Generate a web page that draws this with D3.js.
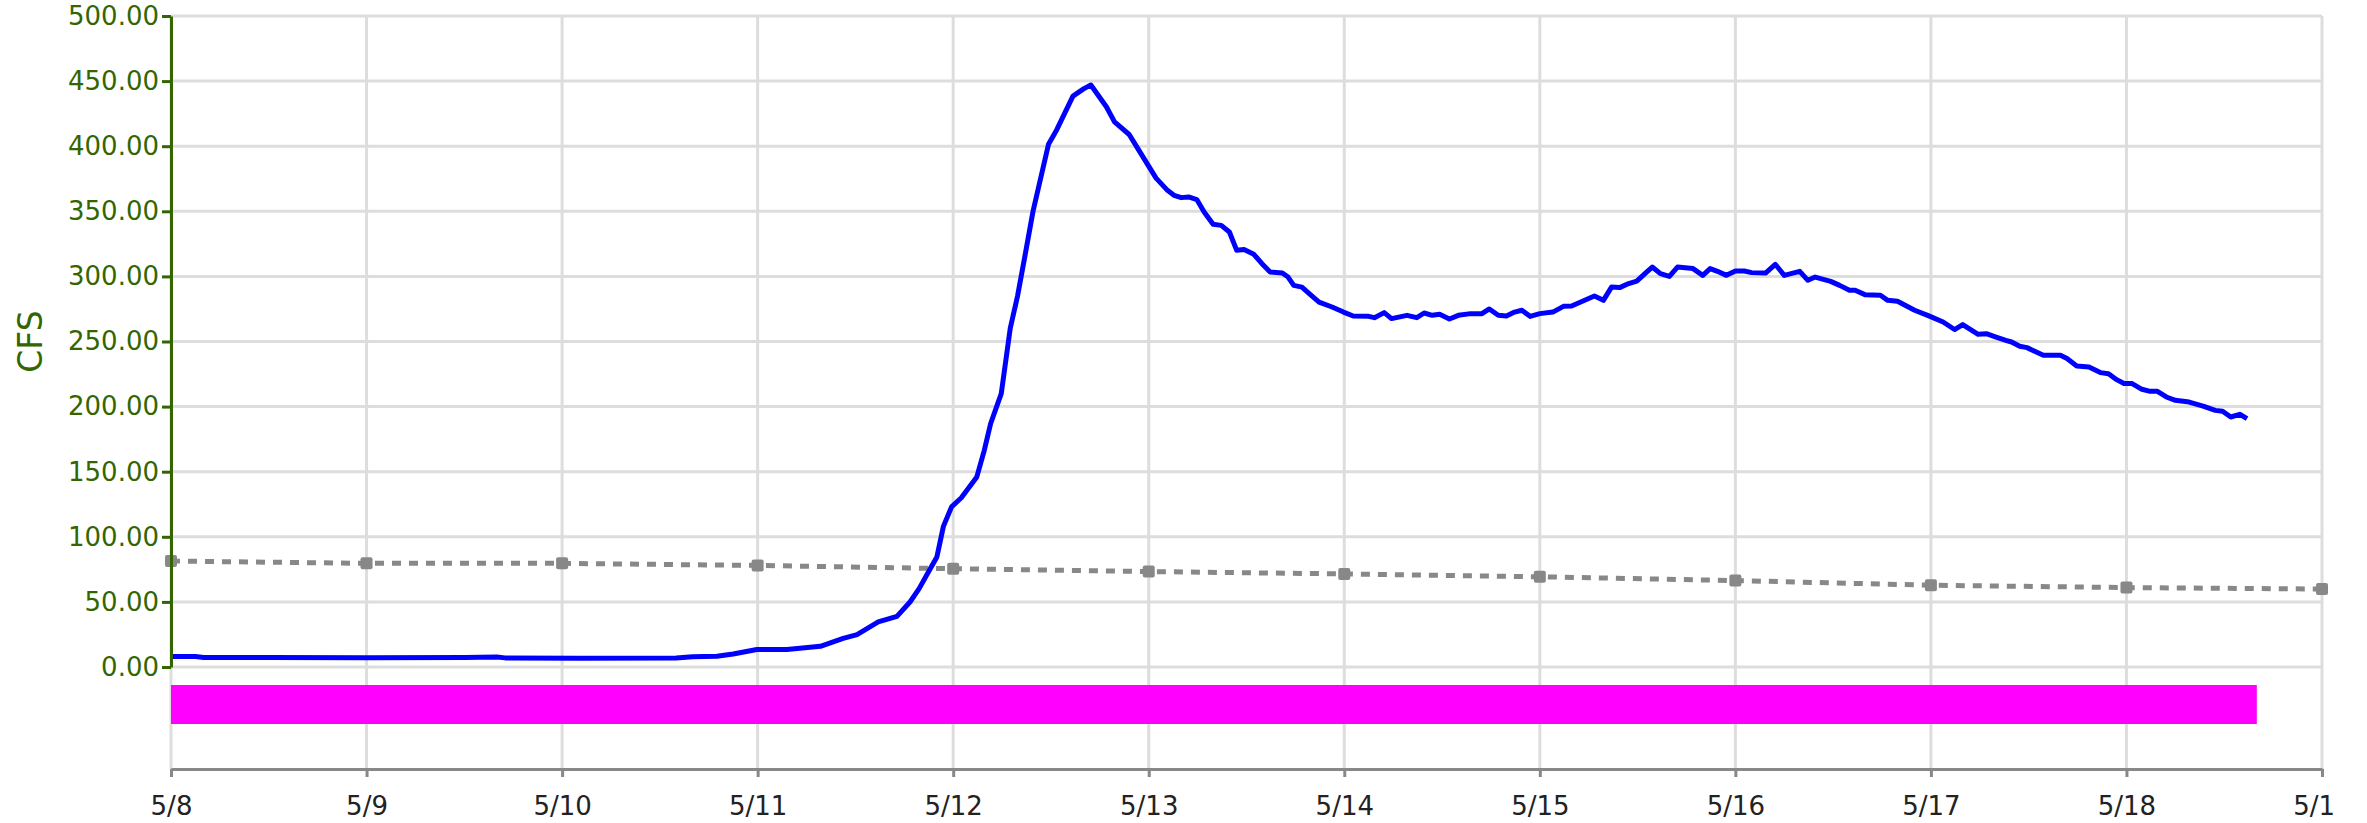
<!DOCTYPE html>
<html>
<head>
<meta charset="utf-8">
<script src="https://cdn.jsdelivr.net/npm/d3@7"></script>
<style>
  body { margin: 0; background: #fff; }
  svg { display: block; font-family: "DejaVu Sans", sans-serif; }
</style>
</head>
<body>
<svg id="chart" width="2336" height="823"></svg>
<script>
// day ticks (hours from 5/8 00:00) and their labels
var dayHours = [0, 24, 48, 72, 96, 120, 144, 168, 192, 216, 240, 264];
var dayLabels = ["5/8", "5/9", "5/10", "5/11", "5/12", "5/13", "5/14", "5/15", "5/16", "5/17", "5/18", "5/19"];
var yTicks = [0, 50, 100, 150, 200, 250, 300, 350, 400, 450, 500];

// dashed grey reference series, one value per day
var medianCfs = [81.4, 79.6, 79.6, 78.0, 75.5, 73.3, 71.5, 69.3, 66.4, 62.8, 61.0, 59.9];

// observed flow (blue), hours from 5/8 00:00
var flowHours = [0, 3, 4, 12, 24, 36, 40, 41, 50, 62, 64, 67, 69, 71.9, 75.6, 79.7, 82.5, 84.2, 86.8, 89.1,
  90.7, 91.8, 93.2, 94.0, 94.8, 95.8, 97.0, 98.9, 99.8, 100.6, 101.9, 103.0, 103.9, 104.7, 105.8, 107.7, 108.7, 110.7, 112.0, 112.9,
  114.8, 115.8, 117.6, 118.8, 119.8, 120.9, 122.3, 123.1, 124.0, 124.9, 125.9, 126.8, 127.9, 128.9, 129.9, 130.8, 131.7, 132.9, 133.9, 134.9,
  136.4, 137.1, 137.8, 138.8, 139.7, 140.9, 142.5, 143.9, 145.1, 147.0, 147.7, 148.9, 149.8, 151.7, 152.9, 153.8, 154.8, 155.7, 156.9, 158.0,
  159.5, 160.9, 161.8, 162.9, 163.9, 164.9, 165.8, 166.8, 168.0, 169.6, 170.9, 171.9, 173.3, 174.7, 175.8, 176.8, 177.8, 178.9, 179.9, 180.9,
  181.8, 182.8, 183.9, 184.9, 186.8, 188.0, 188.9, 189.8, 190.9, 192.0, 193.1, 194.0, 195.7, 196.9, 198.0, 199.9, 200.9, 201.8, 203.7, 204.8,
  206.0, 206.7, 207.9, 209.8, 210.7, 211.9, 214.0, 215.6, 217.5, 218.9, 219.9, 221.8, 222.8, 224.0, 225.2, 225.9, 226.9, 227.8, 229.8, 231.9,
  232.7, 233.9, 235.4, 236.8, 237.8, 238.8, 239.7, 240.7, 241.9, 242.9, 243.8, 244.9, 246.0, 247.7, 249.5, 250.9, 251.8, 252.8, 253.9, 254.8];
var flowCfs = [8.0, 8.0, 7.3, 7.3, 7.2, 7.3, 7.6, 7.0, 6.8, 6.9, 7.8, 8.2, 10, 13.4, 13.4, 15.9, 22.0, 24.9, 34.6, 38.9,
  49.9, 60, 75.6, 84.5, 108, 123, 130, 146, 166, 187, 210, 260, 285, 312, 350, 401.5, 412.5, 438.5, 444, 447,
  430.3, 418.7, 409, 396.8, 386.6, 375.5, 366.1, 362.3, 360.5, 361, 359, 349.5, 340, 339.2, 334.1, 320, 320.6, 317, 309.8, 303.4,
  302.6, 299.5, 293.1, 291.8, 286.8, 280.3, 276.5, 272.6, 269.6, 269.3, 268.3, 272.2, 267.6, 270.1, 268.3, 271.9, 270.1, 270.9, 267.3, 270.1,
  271.4, 271.4, 275, 270.1, 269.6, 272.6, 274, 269.3, 271.4, 272.6, 277, 277.3, 281.1, 284.9, 281.6, 291.8, 291.4, 294.5, 296.4, 302.1,
  307.2, 302.1, 300, 307.2, 306, 300.8, 306, 303.9, 300.8, 304.1, 304.1, 302.9, 302.6, 309.3, 300.8, 303.9, 297, 299.5, 296.2, 293.1,
  289.3, 289.3, 286, 285.5, 281.6, 280.9, 274, 270.1, 265, 259.2, 263, 255.5, 256, 253.4, 250.9, 249.6, 246.3, 245.3, 239.4, 239.4,
  236.9, 231.2, 230.4, 226.1, 225.3, 220.7, 217.7, 217.7, 213.3, 211.7, 211.7, 207.4, 204.8, 203.5, 200.2, 197.1, 196.4, 192, 194.1, 190.8];

// magenta availability bar (hours)
var barHours = [0, 256];

var svg = d3.select("#chart");
var plotLeft = 171, plotRight = 2322, plotTop = 16, plotBottom = 667, axisY = 769;

var x = d3.scaleLinear().domain([0, 264]).range([plotLeft, plotRight]);
var y = d3.scaleLinear().domain([0, 500]).range([plotBottom, plotTop]);

var grid = svg.append("g").attr("stroke", "#dddddd").attr("stroke-width", 3);
grid.selectAll("line.h")
  .data(yTicks)
  .enter().append("line")
  .attr("class", "h")
  .attr("x1", plotLeft).attr("x2", plotRight)
  .attr("y1", y).attr("y2", y);
grid.selectAll("line.v")
  .data(dayHours)
  .enter().append("line")
  .attr("class", "v")
  .attr("x1", x).attr("x2", x)
  .attr("y1", plotTop).attr("y2", axisY);

svg.append("rect")
  .attr("x", x(barHours[0]))
  .attr("width", x(barHours[1]) - x(barHours[0]))
  .attr("y", 685)
  .attr("height", 39)
  .attr("fill", "#ff00ff");

var median = dayHours.map(function (h, i) { return [h, medianCfs[i]]; });
svg.append("path")
  .datum(median)
  .attr("fill", "none")
  .attr("stroke", "#888")
  .attr("stroke-width", 5)
  .attr("stroke-dasharray", "9,8")
  .attr("d", d3.line().x(function (d) { return x(d[0]); }).y(function (d) { return y(d[1]); }));
svg.append("g").selectAll("rect")
  .data(median)
  .enter().append("rect")
  .attr("x", function (d) { return x(d[0]) - 6; })
  .attr("y", function (d) { return y(d[1]) - 6; })
  .attr("width", 12).attr("height", 12)
  .attr("rx", 2)
  .attr("fill", "#888");

var flow = flowHours.map(function (h, i) { return [h, flowCfs[i]]; });
svg.append("path")
  .datum(flow)
  .attr("fill", "none")
  .attr("stroke", "#0000ff")
  .attr("stroke-width", 5)
  .attr("stroke-linejoin", "round")
  .attr("d", d3.line().x(function (d) { return x(d[0]); }).y(function (d) { return y(d[1]); }));

// x axis
var xAxis = svg.append("g")
  .attr("transform", "translate(0," + axisY + ")")
  .call(d3.axisBottom(x).tickValues(dayHours)
    .tickFormat(function (d, i) { return dayLabels[i]; })
    .tickSize(8).tickSizeOuter(0).tickPadding(20));
xAxis.attr("font-size", 26).attr("font-family", "DejaVu Sans, sans-serif");
xAxis.select(".domain").attr("stroke", "#888").attr("stroke-width", 3);
xAxis.selectAll(".tick line").attr("stroke", "#888").attr("stroke-width", 3);
xAxis.selectAll(".tick text").attr("fill", "#222");

// y axis
var yAxis = svg.append("g")
  .attr("transform", "translate(" + plotLeft + ",0)")
  .call(d3.axisLeft(y).tickValues(yTicks).tickFormat(d3.format(".2f"))
    .tickSize(9).tickSizeOuter(0).tickPadding(3));
yAxis.attr("font-size", 26).attr("font-family", "DejaVu Sans, sans-serif");
yAxis.select(".domain").attr("stroke", "#336600").attr("stroke-width", 3);
yAxis.selectAll(".tick line").attr("stroke", "#336600").attr("stroke-width", 3);
yAxis.selectAll(".tick text").attr("fill", "#336600");

svg.append("text")
  .attr("transform", "translate(42," + (plotTop + plotBottom) / 2 + ") rotate(-90)")
  .attr("text-anchor", "middle")
  .attr("font-size", 33)
  .attr("fill", "#336600")
  .text("CFS");
</script>
</body>
</html>
